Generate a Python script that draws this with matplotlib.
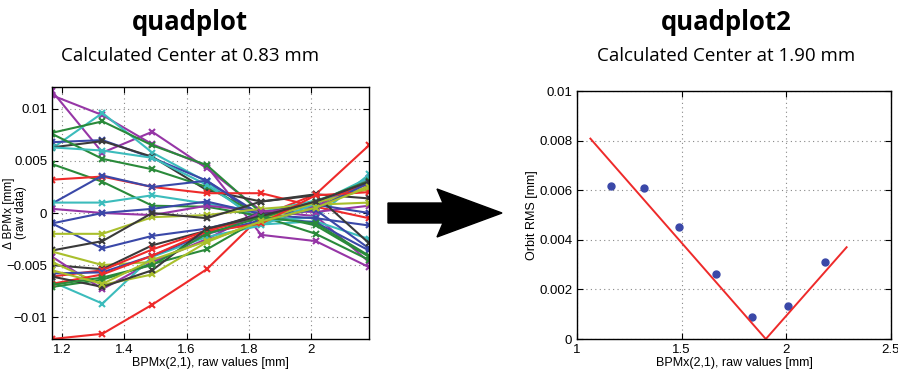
import matplotlib
matplotlib.use("Agg")
import matplotlib.pyplot as plt
from matplotlib.patches import Polygon
from matplotlib.ticker import FuncFormatter

plt.rcParams['font.family'] = ['Liberation Sans', 'DejaVu Sans']

# ---------------- data ----------------
bpm_x = [1.168, 1.330, 1.490, 1.665, 1.840, 2.015, 2.186]

line_colors = ['R', 'M', 'M', 'C', 'G', 'B', 'K', 'G', 'C', 'G', 'R', 'B', 'C', 'M', 'B',
               'B', 'Y', 'K', 'Y', 'K', 'R', 'M', 'C', 'G', 'Y', 'B', 'R', 'K', 'G', 'Y']

bpm_deltas = [
    [-0.0121, -0.0116, -0.0088, -0.0054, -0.0003, 0.0018, 0.0065],
    [0.0117, 0.0058, 0.0078, 0.0043, 0.0002, -0.0003, -0.0047],
    [0.0113, 0.0094, 0.0066, 0.0045, -0.0021, -0.0027, -0.0052],
    [0.0062, 0.0096, 0.0058, 0.0030, -0.0011, -0.0008, -0.0025],
    [0.0077, 0.0088, 0.0065, 0.0046, 0.0000, -0.0012, -0.0042],
    [0.0068, 0.0070, 0.0053, 0.0031, -0.0004, -0.0009, -0.0036],
    [0.0063, 0.0069, 0.0054, 0.0022, 0.0011, 0.0018, 0.0014],
    [0.0076, 0.0052, 0.0042, 0.0025, -0.0003, -0.0020, -0.0045],
    [0.0063, 0.0060, 0.0053, 0.0027, -0.0008, -0.0004, 0.0037],
    [0.0047, 0.0030, 0.0007, 0.0006, -0.0003, 0.0010, 0.0031],
    [0.0032, 0.0035, 0.0025, 0.0019, 0.0019, 0.0006, -0.0005],
    [0.0009, 0.0036, 0.0025, 0.0031, -0.0002, -0.0005, -0.0012],
    [0.0010, 0.0010, 0.0017, 0.0009, 0.0001, 0.0012, 0.0028],
    [0.0004, 0.0000, -0.0002, 0.0007, 0.0002, 0.0001, 0.0007],
    [-0.0010, 0.0000, 0.0004, 0.0011, -0.0001, 0.0008, 0.0000],
    [-0.0010, -0.0034, -0.0022, -0.0015, -0.0002, 0.0003, -0.0034],
    [-0.0020, -0.0020, -0.0004, -0.0002, 0.0004, 0.0008, 0.0010],
    [-0.0036, -0.0027, 0.0000, -0.0005, 0.0011, 0.0017, -0.0029],
    [-0.0037, -0.0050, -0.0047, -0.0026, -0.0010, 0.0006, 0.0026],
    [-0.0050, -0.0054, -0.0031, -0.0017, 0.0000, 0.0009, 0.0030],
    [-0.0061, -0.0055, -0.0035, -0.0017, -0.0004, 0.0011, 0.0028],
    [-0.0042, -0.0073, -0.0047, -0.0025, 0.0001, 0.0006, 0.0034],
    [-0.0066, -0.0087, -0.0042, -0.0023, -0.0012, 0.0009, 0.0034],
    [-0.0071, -0.0064, -0.0049, -0.0035, -0.0005, 0.0011, 0.0031],
    [-0.0047, -0.0069, -0.0059, -0.0028, -0.0007, 0.0010, 0.0023],
    [-0.0058, -0.0057, -0.0041, -0.0020, -0.0007, 0.0004, 0.0029],
    [-0.0068, -0.0059, -0.0041, -0.0018, -0.0010, 0.0017, 0.0020],
    [-0.0061, -0.0071, -0.0055, -0.0015, -0.0003, 0.0011, 0.0030],
    [-0.0069, -0.0062, -0.0050, -0.0020, -0.0004, -0.0010, -0.0041],
    [-0.0055, -0.0068, -0.0045, -0.0027, -0.0008, 0.0005, 0.0025],
]

rms_x = [1.162, 1.321, 1.488, 1.662, 1.837, 2.010, 2.187]
rms_y = [0.00615, 0.00609, 0.00451, 0.00262, 0.00090, 0.00132, 0.00309]

fit_x = [1.064, 1.902, 2.288]
fit_y = [0.00808, 0.0, 0.0037]

left_xticks = [1.2, 1.4, 1.6, 1.8, 2.0]
left_yticks = [-0.01, -0.005, 0, 0.005, 0.01]
right_xticks = [1, 1.5, 2, 2.5]
right_yticks = [0, 0.002, 0.004, 0.006, 0.008, 0.01]

titles = ['quadplot', 'quadplot2']
subtitles = ['Calculated Center at 0.83 mm', 'Calculated Center at 1.90 mm']

# ---------------- style ----------------
palette = {'B': '#3a48a8', 'G': '#2a8a3a', 'R': '#ee2a2a', 'C': '#3cbcbc',
           'M': '#9636a6', 'Y': '#a9bf2c', 'K': '#3a3a3a'}

W, H = 898, 372
fig = plt.figure(figsize=(W / 100, H / 100), dpi=100)


def fx(px):
    return px / W


def fy(py):
    return (H - py) / H


fmt = FuncFormatter(lambda v, p: ('%g' % v).replace('-', '\u2212'))


def style_axes(ax):
    ax.grid(True, linestyle=(0, (1, 3)), color='#888888', linewidth=0.8)
    ax.tick_params(direction='in', top=True, right=True, labelsize=9.5, length=4, width=0.8)
    for s in ax.spines.values():
        s.set_linewidth(1.0)
    ax.xaxis.set_major_formatter(fmt)
    ax.yaxis.set_major_formatter(fmt)


# left axes
ax1 = fig.add_axes([fx(52), fy(339), fx(369) - fx(52), fy(87) - fy(339)])
for ys, c in zip(bpm_deltas, line_colors):
    ax1.plot(bpm_x, ys, color=palette[c], lw=1.5, marker='x', ms=4, mew=1.5)
ax1.set_xlim(bpm_x[0], bpm_x[-1])
ax1.set_ylim(-0.0121, 0.0121)
ax1.set_xticks(left_xticks)
ax1.set_yticks(left_yticks)
style_axes(ax1)
ax1.set_xlabel('BPMx(2,1), raw values [mm]', fontsize=9, labelpad=1)
ax1.set_ylabel('\u0394 BPMx [mm]\n(raw data)', fontsize=8.5, linespacing=0.9)
ax1.yaxis.label.set_verticalalignment('center')
ax1.yaxis.set_label_coords((15 - 52) / 317, 0.5)

# right axes
ax2 = fig.add_axes([fx(577), fy(339), fx(891) - fx(577), fy(91) - fy(339)])
ax2.plot(rms_x, rms_y, 'o', color='#3a48a8', ms=5, mec='#3a48a8')
ax2.plot(fit_x, fit_y, color='#ee2a2a', lw=1.4)
ax2.set_xlim(1, 2.5)
ax2.set_ylim(0, 0.01)
ax2.set_xticks(right_xticks)
ax2.set_yticks(right_yticks)
style_axes(ax2)
ax2.set_xlabel('BPMx(2,1), raw values [mm]', fontsize=9, labelpad=1)
ax2.set_ylabel('Orbit RMS [mm]', fontsize=9)
ax2.yaxis.label.set_verticalalignment('center')
ax2.yaxis.set_label_coords((532 - 577) / 314, 0.5)

# titles
for cx, t, st in zip([190, 726], titles, subtitles):
    fig.text(fx(cx), fy(22), t, ha='center', va='center', fontsize=18.5,
             fontweight='bold', family=['Open Sans', 'DejaVu Sans'])
    fig.text(fx(cx), fy(56), st, ha='center', va='center', fontsize=13.5,
             family=['Open Sans', 'DejaVu Sans'])

# arrow
arrow_px = [(388, 203), (443, 203), (437, 189), (502, 213), (437, 237), (443, 223), (388, 223)]
fig.add_artist(Polygon([(fx(a), fy(b)) for a, b in arrow_px], closed=True,
                       transform=fig.transFigure, facecolor='black', edgecolor='black'))

fig.savefig('out.png', dpi=100)
